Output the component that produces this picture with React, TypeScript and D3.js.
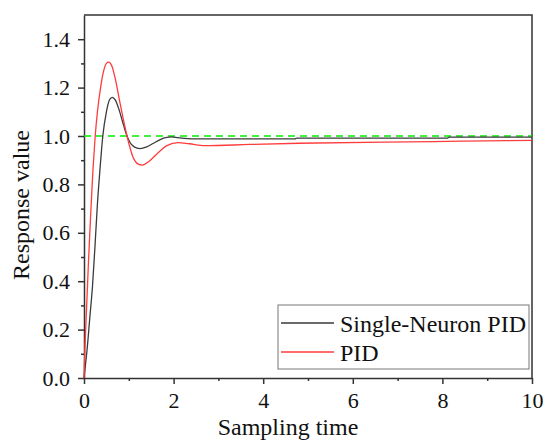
import * as d3 from 'd3';
import React, { useEffect, useRef } from 'react';

// time values (s) and responses
const neuronT = [0, 0.03, 0.07, 0.13, 0.19, 0.25, 0.3, 0.36, 0.42, 0.5, 0.57, 0.63, 0.7, 0.78, 0.86, 0.94, 1.02, 1.12, 1.25, 1.4, 1.55, 1.7, 1.85, 1.95, 2.1, 2.4, 3.0, 4.7, 4.75, 8.1, 8.15, 10];
const neuronV = [0, 0.05, 0.12, 0.25, 0.38, 0.56, 0.72, 0.87, 1.0, 1.1, 1.15, 1.16, 1.148, 1.11, 1.06, 1.01, 0.975, 0.955, 0.948, 0.955, 0.97, 0.985, 0.994, 0.996, 0.993, 0.988, 0.988, 0.988, 0.991, 0.991, 0.995, 0.995];

const pidT = [0, 0.02, 0.06, 0.1, 0.15, 0.2, 0.25, 0.3, 0.37, 0.44, 0.5, 0.55, 0.62, 0.7, 0.8, 0.9, 1.0, 1.1, 1.2, 1.3, 1.45, 1.65, 1.85, 2.1, 2.35, 2.7, 3.7, 4.8, 6.7, 7.8, 9.0, 10];
const pidV = [0, 0.12, 0.3, 0.48, 0.68, 0.86, 1.0, 1.1, 1.2, 1.27, 1.3, 1.305, 1.29, 1.235, 1.14, 1.05, 0.97, 0.91, 0.885, 0.88, 0.895, 0.93, 0.96, 0.973, 0.968, 0.96, 0.965, 0.97, 0.975, 0.977, 0.98, 0.982];

const setpoint = 1.0;
const xTicks = [0, 2, 4, 6, 8, 10];
const yTicks = [0, 0.2, 0.4, 0.6, 0.8, 1.0, 1.2, 1.4];
const seriesNames = ['Single-Neuron PID', 'PID'];
const seriesColors = ['#3a3a3a', '#ff3c3c'];

const width = 545;
const height = 441;
const left = 84, right = 532, top = 15, bottom = 378;

function drawChart(el: SVGSVGElement) {
  const svg = d3.select(el);
  svg.selectAll('*').remove();

  const x = d3.scaleLinear().domain([0, 10]).range([left, right]);
  const y = d3.scaleLinear().domain([0, 1.5]).range([bottom, top]);
  const font = "'Times New Roman', Times, Tinos, 'Nimbus Roman', 'Nimbus Roman No9 L', FreeSerif, 'Noto Serif', 'Liberation Serif', 'DejaVu Serif', serif";

  // minor ticks
  svg.append('g')
    .attr('transform', `translate(0,${bottom})`)
    .call(d3.axisBottom(x).tickValues(d3.range(1, 10, 2)).tickSize(3).tickFormat(() => ''))
    .call(g => g.select('.domain').remove());
  svg.append('g')
    .attr('transform', `translate(${left},0)`)
    .call(d3.axisLeft(y).tickValues(d3.range(0.1, 1.5, 0.2)).tickSize(3).tickFormat(() => ''))
    .call(g => g.select('.domain').remove());

  const xAxis = svg.append('g')
    .attr('transform', `translate(0,${bottom})`)
    .call(d3.axisBottom(x).tickValues(xTicks).tickSize(6).tickSizeOuter(0).tickFormat(d3.format('d')));
  xAxis.selectAll('text').attr('dy', null).attr('y', 30);

  svg.append('g')
    .attr('transform', `translate(${left},0)`)
    .call(d3.axisLeft(y).tickValues(yTicks).tickSize(6).tickSizeOuter(0).tickPadding(8).tickFormat(d3.format('.1f')));

  svg.selectAll('g').attr('font-family', null);
  svg.selectAll('.tick text').style('font-family', font).style('font-size', '22px').attr('fill', '#111');
  svg.selectAll('.tick line, .domain').attr('stroke', '#333').attr('stroke-width', 1.5);

  // frame top and right
  svg.append('path')
    .attr('d', `M${left},${top}H${right}V${bottom}`)
    .attr('fill', 'none')
    .attr('stroke', '#333')
    .attr('stroke-width', 1.5);

  // setpoint
  svg.append('line')
    .attr('x1', x(0)).attr('x2', x(10))
    .attr('y1', y(setpoint)).attr('y2', y(setpoint))
    .attr('stroke', '#00ee00')
    .attr('stroke-width', 1.5)
    .attr('stroke-dasharray', '7,5');

  const line = d3.line<[number, number]>()
    .x(d => x(d[0]))
    .y(d => y(d[1]))
    .curve(d3.curveMonotoneX);

  const series: [number, number][][] = [
    neuronT.map((t, i) => [t, neuronV[i]]),
    pidT.map((t, i) => [t, pidV[i]]),
  ];
  series.forEach((s, i) => {
    svg.append('path')
      .datum(s)
      .attr('fill', 'none')
      .attr('stroke', seriesColors[i])
      .attr('stroke-width', 1.3)
      .attr('d', line);
  });

  // legend
  const lg = svg.append('g');
  lg.append('rect')
    .attr('x', 278).attr('y', 305)
    .attr('width', 251).attr('height', 64)
    .attr('fill', '#fff')
    .attr('stroke', '#777')
    .attr('stroke-width', 1);
  seriesNames.forEach((name, i) => {
    const yy = 323 + i * 29;
    lg.append('line')
      .attr('x1', 281).attr('x2', 334)
      .attr('y1', yy).attr('y2', yy)
      .attr('stroke', seriesColors[i])
      .attr('stroke-width', 1.3);
    lg.append('text')
      .attr('x', 340).attr('y', yy + 9)
      .style('font-family', font)
      .style('font-size', '24px')
      .attr('fill', '#111')
      .text(name);
  });

  // axis titles
  svg.append('text')
    .attr('x', 288).attr('y', 435)
    .attr('text-anchor', 'middle')
    .style('font-family', font)
    .style('font-size', '24px')
    .attr('fill', '#111')
    .text('Sampling time');

  svg.append('text')
    .attr('transform', 'translate(29,205) rotate(-90)')
    .attr('text-anchor', 'middle')
    .style('font-family', font)
    .style('font-size', '24px')
    .attr('fill', '#111')
    .text('Response value');
}

export default function App() {
  const ref = useRef<SVGSVGElement>(null);
  useEffect(() => {
    if (ref.current) drawChart(ref.current);
  }, []);
  return (
    <div style={{ position: 'absolute', left: 0, top: 0 }}>
      <svg ref={ref} width={width} height={height} style={{ display: 'block', background: '#fff' }} />
    </div>
  );
}
